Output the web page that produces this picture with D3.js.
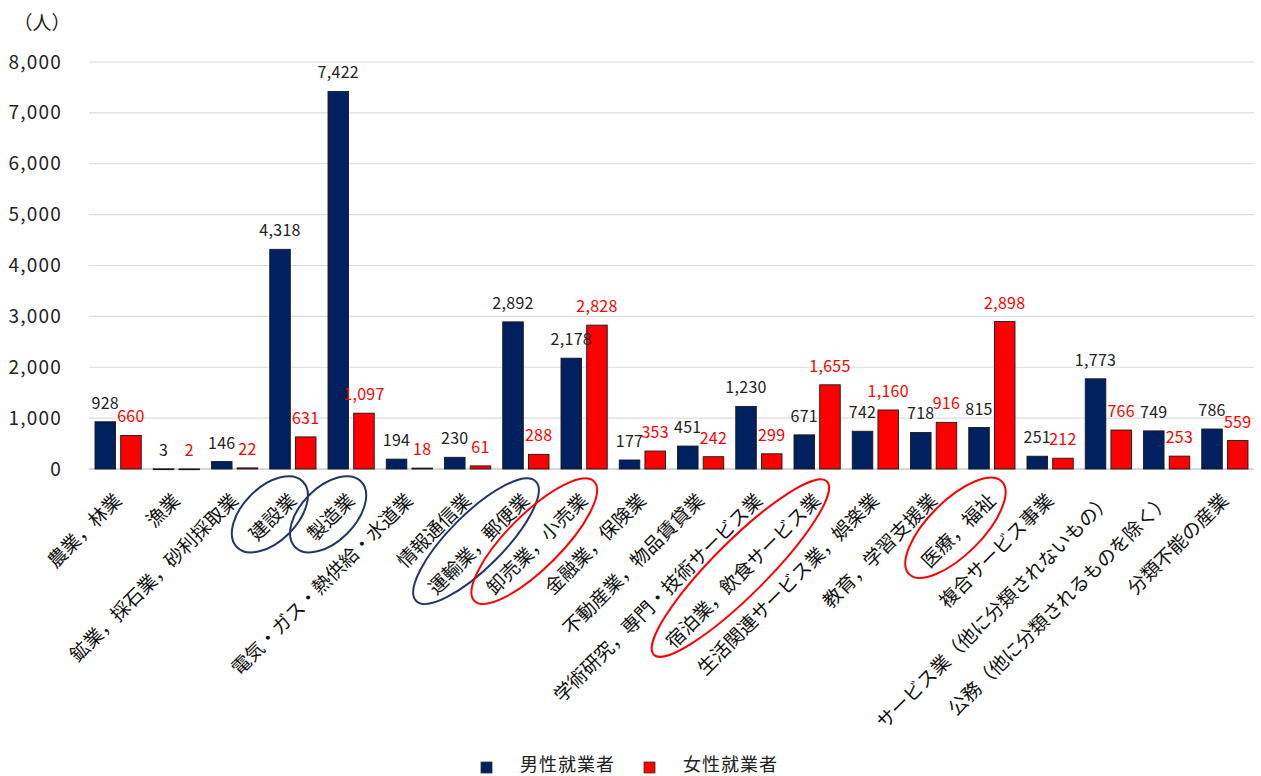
<!DOCTYPE html>
<html><head><meta charset="utf-8">
<script src="https://cdn.jsdelivr.net/npm/d3@7"></script>
<style>
html,body{margin:0;padding:0;background:#fff;}
text{font-family:"Noto Sans CJK JP","Noto Sans",sans-serif;}
</style></head>
<body><svg id="c" width="1261" height="776"></svg>
<script>
const categories = ["農業，林業","漁業","鉱業，採石業，砂利採取業","建設業","製造業","電気・ガス・熱供給・水道業","情報通信業","運輸業，郵便業","卸売業，小売業","金融業，保険業","不動産業，物品賃貸業","学術研究，専門・技術サービス業","宿泊業，飲食サービス業","生活関連サービス業，娯楽業","教育，学習支援業","医療，福祉","複合サービス事業","サービス業（他に分類されないもの）","公務（他に分類されるものを除く）","分類不能の産業"];
const maleValues = [928,3,146,4318,7422,194,230,2892,2178,177,451,1230,671,742,718,815,251,1773,749,786];
const femaleValues = [660,2,22,631,1097,18,61,288,2828,353,242,299,1655,1160,916,2898,212,766,253,559];
const seriesNames = ["男性就業者","女性就業者"];
const seriesColors = ["#002060","#FF0000"];
const labelColors = ["#222222","#FF0000"];
const yTicks = [0,1000,2000,3000,4000,5000,6000,7000,8000];
const unitLabel = "（人）";
const highlightNavy = ["建設業","製造業","運輸業，郵便業"];
const highlightRed = ["卸売業，小売業","宿泊業，飲食サービス業","医療，福祉"];

(function(){
const svg = d3.select("#c");
const pLeft = 89, pRight = 1254, pTop = 62, pBottom = 469;
const x0 = d3.scaleBand().domain(categories).range([pLeft, pRight]).padding(0);
const x1 = d3.scaleBand().domain([0,1]).range([6, x0.bandwidth()-6]).paddingInner(0.2).paddingOuter(0);
const y = d3.scaleLinear().domain([0, 8000]).range([pBottom, pTop]);
const fmt = d3.format(",");

svg.append("g").selectAll("line").data(yTicks).join("line")
  .attr("x1", pLeft).attr("x2", pRight)
  .attr("y1", d => y(d)).attr("y2", d => y(d))
  .attr("stroke", d => d === 0 ? "#c8c8c8" : "#dcdcdc").attr("stroke-width", d => d===0?1.5:1.2);

const yAxis = d3.axisLeft(y).tickValues(yTicks).tickFormat(fmt).tickSize(0).tickPadding(0);
const ga = svg.append("g").attr("transform", `translate(62,0)`).call(yAxis);
ga.select(".domain").remove();
ga.selectAll("text").attr("font-size", 19).attr("fill", "#222").attr("letter-spacing", 1.2)
  .attr("font-family", '"Noto Sans CJK JP",sans-serif');

svg.append("text").attr("x", 42).attr("y", 23).attr("dy", "0.35em").attr("text-anchor", "middle")
  .attr("font-size", 19).attr("fill", "#222").text(unitLabel);

const rows = categories.map((c, i) => ({c, vals: [maleValues[i], femaleValues[i]]}));
const groups = svg.append("g").selectAll("g").data(rows).join("g")
  .attr("transform", d => `translate(${x0(d.c)},0)`);
groups.selectAll("rect").data(d => d.vals.map((v, k) => ({v, k}))).join("rect")
  .attr("x", d => x1(d.k)).attr("width", x1.bandwidth())
  .attr("y", d => y(d.v)).attr("height", d => Math.max(0.8, y(0) - y(d.v)))
  .attr("fill", d => seriesColors[d.k]).attr("stroke", "#1a1a1a").attr("stroke-width", 0.9);
groups.selectAll("text.v").data(d => d.vals.map((v, k) => ({v, k}))).join("text")
  .attr("class", "v")
  .attr("x", d => x1(d.k) + x1.bandwidth()/2).attr("y", d => y(d.v) - 13)
  .attr("text-anchor", "middle").attr("font-size", 16).attr("letter-spacing", 0.3)
  .attr("fill", d => labelColors[d.k]).text(d => fmt(d.v));

const catG = svg.append("g");
const anchorY = 497;
const anchorDX = 0;
const labels = catG.selectAll("text").data(categories).join("text")
  .attr("transform", d => `translate(${x0(d) + x0.bandwidth()/2 + anchorDX},${anchorY}) rotate(-45)`)
  .attr("text-anchor", "end").attr("dy", "0.35em")
  .attr("font-size", 19).attr("fill", "#111").text(d => d);

labels.each(function(d) {
  let col = null;
  if (highlightNavy.includes(d)) col = "#1F3864";
  if (highlightRed.includes(d)) col = "#FF0000";
  if (!col) return;
  const L = this.getComputedTextLength();
  const ex = x0(d) + x0.bandwidth()/2 + anchorDX;
  catG.append("ellipse")
    .attr("transform", `translate(${ex},${anchorY}) rotate(-45) translate(${-L/2},-4)`)
    .attr("rx", L/2 + 18).attr("ry", 27)
    .attr("fill", "none").attr("stroke", col).attr("stroke-width", 2);
});

const lg = svg.append("g");
const legendX = [481, 644];
seriesNames.forEach((n, k) => {
  lg.append("rect").attr("x", legendX[k]).attr("y", 762).attr("width", 11).attr("height", 11)
    .attr("fill", seriesColors[k]).attr("stroke", "#333").attr("stroke-width", 0.8);
  lg.append("text").attr("x", legendX[k] + 39).attr("y", 765).attr("dy", "0.35em")
    .attr("font-size", 18).attr("fill", "#222").attr("letter-spacing", 1).text(n);
});
})();
</script></body></html>
